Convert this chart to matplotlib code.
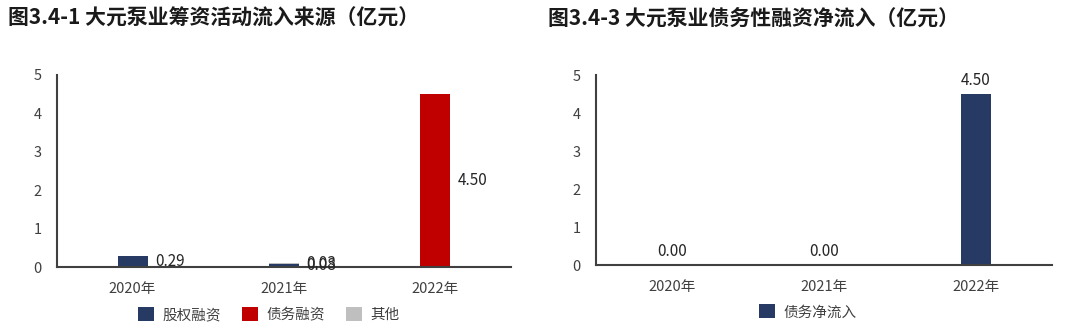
import matplotlib.pyplot as plt

plt.rcParams['font.family'] = ['Noto Sans CJK SC', 'DejaVu Sans']

years = ['2020年', '2021年', '2022年']
equity = [0.29, 0.08, 0.00]
debt = [0.00, 0.00, 4.50]
other = [0.00, 0.03, 0.00]
net_debt = [0.00, 0.00, 4.50]

navy = '#263a63'
red = '#c00000'
gray = '#bfbfbf'
axis_c = '#404040'

fig = plt.figure(figsize=(10.8, 3.29), dpi=100)
ax1 = fig.add_axes([0.0528, 0.1884, 0.420, 0.584])
ax2 = fig.add_axes([0.5519, 0.1945, 0.4222, 0.5775])

fig.text(0.007, 0.945, '图3.4-1 大元泵业筹资活动流入来源（亿元）', fontsize=15,
         fontweight='bold', color='#1a1a1a', va='center')
fig.text(0.507, 0.945, '图3.4-3 大元泵业债务性融资净流入（亿元）', fontsize=15,
         fontweight='bold', color='#1a1a1a', va='center')

x = range(len(years))
w = 0.2

# 左图：堆积柱
bottom = [0.0] * 3
for vals, c, name in [(equity, navy, '股权融资'), (debt, red, '债务融资'), (other, gray, '其他')]:
    ax1.bar(x, vals, w, bottom=bottom, color=c, label=name)
    for i, v in enumerate(vals):
        if v > 0:
            ax1.text(i + w / 2 + 0.05, bottom[i] + v / 2, f'{v:.2f}', fontsize=11,
                     color='#262626', va='center', ha='left')
    bottom = [b + v for b, v in zip(bottom, vals)]

# 右图
ax2.bar(x, net_debt, w, color=navy, label='债务净流入')
for i, v in enumerate(net_debt):
    ax2.text(i, v + 0.12, f'{v:.2f}', fontsize=11, color='#262626', ha='center', va='bottom')

for ax in (ax1, ax2):
    ax.set_xlim(-0.5, 2.5)
    ax.set_ylim(0, 5)
    ax.set_xticks(list(x))
    ax.set_xticklabels(years)
    ax.set_yticks([0, 1, 2, 3, 4, 5])
    for s in ['top', 'right']:
        ax.spines[s].set_visible(False)
    for s in ['left', 'bottom']:
        ax.spines[s].set_color(axis_c)
        ax.spines[s].set_linewidth(1.5)
    ax.tick_params(axis='both', length=0, labelsize=10.5, colors='#404040')
    ax.tick_params(axis='x', pad=11)
    ax.tick_params(axis='y', pad=11)

h1, l1 = ax1.get_legend_handles_labels()
fig.legend(h1, l1, loc='center', bbox_to_anchor=(0.249, 0.043), ncol=3, frameon=False,
           fontsize=10.5, handlelength=1.1, handleheight=1.1, columnspacing=1.4,
           handletextpad=0.6, labelcolor='#404040')
h2, l2 = ax2.get_legend_handles_labels()
fig.legend(h2, l2, loc='center', bbox_to_anchor=(0.748, 0.052), ncol=1, frameon=False,
           fontsize=10.5, handlelength=1.1, handleheight=1.1, handletextpad=0.6,
           labelcolor='#404040')

fig.savefig('out.png', dpi=100)
